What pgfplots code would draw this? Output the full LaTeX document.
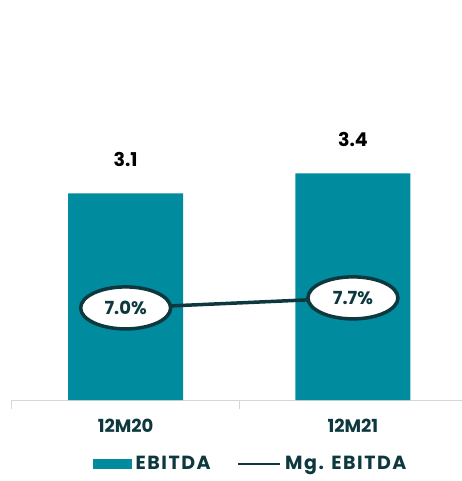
\documentclass[border=0pt]{standalone}
\usepackage{pgfplots}
\pgfplotsset{compat=1.18}
\usepackage{fontspec}
\setmainfont{Poppins}
\newfontfamily\legendfont[LetterSpace=8]{Poppins}
\usetikzlibrary{shapes.geometric}
\definecolor{barteal}{RGB}{0,139,158}
\definecolor{darkteal}{RGB}{12,56,62}
\definecolor{axisgray}{RGB}{215,215,215}

\begin{document}
\begin{tikzpicture}
\begin{axis}[
    name=main,
    scale only axis,
    width=450pt, height=400pt,
    xmin=-0.5, xmax=1.48,
    ymin=0, ymax=6,
    axis x line*=bottom, axis y line=none,
    axis line style={axisgray, line width=1pt, -},
    tick align=outside,
    xtick={0,1}, xticklabels={12M20,12M21},
    major tick length=0pt,
    xticklabel style={font=\fontsize{18}{21}\selectfont\bfseries, text=darkteal, yshift=-16pt},
    extra x ticks={-0.5,0.5}, extra x tick labels={},
    extra x tick style={major tick length=9pt, tick style={draw=axisgray, line width=1pt}},
    /pgf/number format/assume math mode=true,
    legend style={at={(0.53,-0.16)}, anchor=center, draw=none, fill=none,
        legend columns=2, font=\legendfont\fontsize{19}{22}\selectfont\bfseries, text=darkteal,
        /tikz/every odd column/.append style={column sep=2pt},
        /tikz/every even column/.append style={column sep=24pt}},
]
\addplot[ybar, bar width=115pt, fill=barteal, draw=none,
    nodes near coords={\pgfmathprintnumber[fixed, fixed zerofill, precision=1]{\pgfplotspointmeta}},
    nodes near coords style={font=\fontsize{19}{22}\selectfont\bfseries, text=black, yshift=23pt},
    legend image code/.code={\fill[barteal] (0pt,-5pt) rectangle (39pt,5pt);}]
    coordinates {(0,3.1) (1,3.4)};
\addlegendentry{EBITDA}
\addlegendimage{legend image code/.code={\draw[darkteal, line width=2.5pt] (0pt,0pt) -- (42pt,0pt);}}
\addlegendentry{Mg. EBITDA}
\end{axis}
\begin{axis}[
    scale only axis,
    width=450pt, height=400pt,
    xmin=-0.5, xmax=1.48,
    ymin=0.57, ymax=28.5,
    hide axis,
]
\addplot[darkteal, line width=3.5pt, mark=none,
    nodes near coords, point meta=explicit symbolic,
    nodes near coords align={anchor=center},
    every node near coord/.append style={ellipse, draw=darkteal, line width=3.5pt, fill=white,
        minimum width=90pt, minimum height=42pt, anchor=center, text=darkteal,
        font=\fontsize{18}{21}\selectfont\bfseries}]
    coordinates {(0,7.0) [7.0\%] (1,7.7) [7.7\%]};
\end{axis}
\pgfresetboundingbox
\path[use as bounding box] ([xshift=-12pt,yshift=-81pt]main.south west) rectangle (main.north east);
\end{tikzpicture}
\end{document}
